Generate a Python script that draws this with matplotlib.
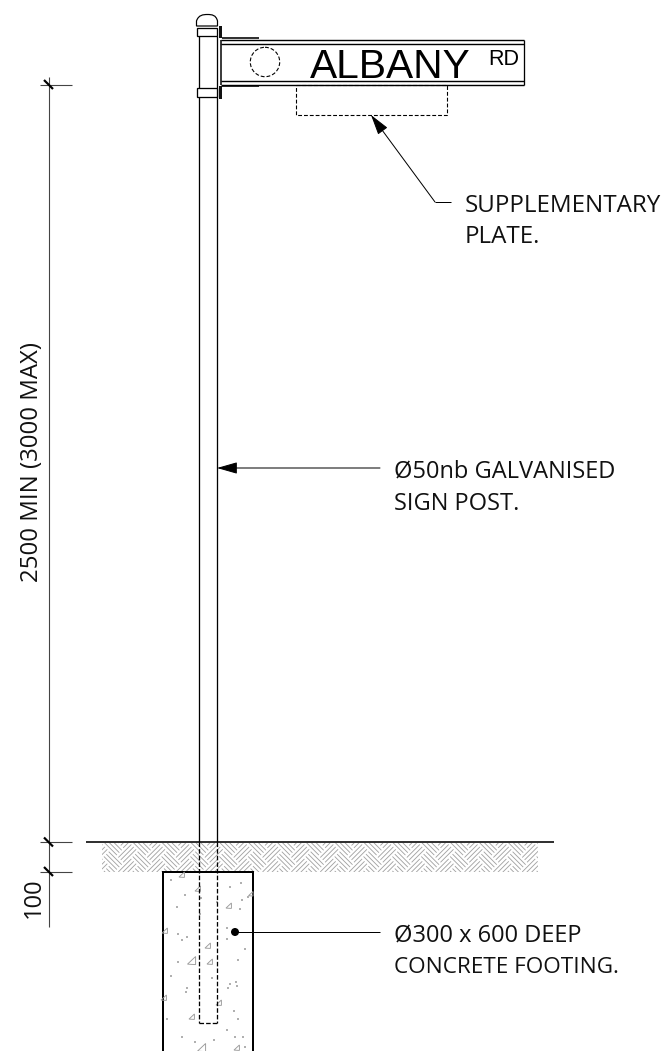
import matplotlib
matplotlib.use("Agg")
import matplotlib.pyplot as plt
from matplotlib.patches import Rectangle, Circle, PathPatch, Polygon
from matplotlib.path import Path

W, H = 661, 1051
PX = 0.72  # one pixel in points at dpi=100

# drawing geometry in pixels
post_x = [198.5, 216.5]
post_top = 36
ground_y = 842
footing_top = 871.5
post_bottom = 1023
footing_x = [162.5, 253]
sign_x = [221, 524]
sign_y = [39.5, 43.5, 81, 85]
plate_box = [296, 85, 447, 115]
rings = [(28, 36), (88, 97)]
brackets = [(26, 38), (86, 99)]
hole = (265, 62, 14.7)
dim_x = 48.5
dim_stops = [84.5, 842, 871.5]

# concrete aggregate
stones = [(182, 875, 3), (198, 889, 3), (229, 906, 3), (251, 894, 2.5), (165, 931, 3),
          (208, 946, 3), (192, 961, 4.5), (210, 962, 3), (164, 998, 3), (219, 1003, 3),
          (192, 1017, 3), (202, 1048, 4.5), (237, 1048, 3)]
specks_x = [171, 185, 177, 201, 217, 200, 230, 241, 242, 248, 240, 227, 227, 178, 187, 182,
            245, 238, 178, 171, 212, 230, 236, 237, 228, 187, 186, 167, 234, 238, 227, 182, 195, 214, 235, 243, 245]
specks_y = [880, 895, 907, 898, 902, 914, 887, 883, 900, 897, 909, 928, 939, 934, 937, 940,
            949, 960, 962, 976, 978, 984, 982, 986, 988, 988, 992, 1019, 1011, 1019, 1030, 1037, 1042, 1040, 1037, 1037, 1047]

# note text: string, left x, baseline y, font size
notes = [("SUPPLEMENTARY", 465, 212, 17.4), ("PLATE.", 465, 243, 17.4),
         ("\u00d850nb GALVANISED", 394, 478, 17.0), ("SIGN POST.", 394, 510, 17.0),
         ("\u00d8300 x 600 DEEP", 394, 942, 17.0), ("CONCRETE FOOTING.", 394, 973, 16.2)]

fig = plt.figure(figsize=(W / 100, H / 100), dpi=100)
ax = fig.add_axes([0, 0, 1, 1])
ax.set_xlim(0, W)
ax.set_ylim(H, 0)
ax.axis("off")


def line(xs, ys, lw=1.0, c="black", **kw):
    ax.plot(xs, ys, color=c, lw=lw * PX, solid_capstyle="butt", **kw)


# herringbone ground hatch
hatch_clip = Rectangle((102, 843), 436, 28.5, transform=ax.transData)
block = 10.2


def hatch_block(u0, v0, du, dv, along_u):
    for k in range(3):
        f = (k + 0.5) / 3
        if along_u:
            pts = [(u0 + 1, v0 + f * dv), (u0 + du - 1, v0 + f * dv)]
        else:
            pts = [(u0 + f * du, v0 + 1), (u0 + f * du, v0 + dv - 1)]
        xs = [102 + (u + v) * 0.7071 for u, v in pts]
        ys = [857 + (u - v) * 0.7071 for u, v in pts]
        ln, = ax.plot(xs, ys, color="#a0a0a0", lw=0.85 * PX, solid_capstyle="butt", zorder=1)
        ln.set_clip_path(hatch_clip)


for a in range(-20, 24):
    for b in range(-12, 12):
        u = (2 * a + b) * block
        v = (2 * a - b) * block
        hatch_block(u, v, 2 * block, block, True)
        hatch_block(u + 2 * block, v, block, 2 * block, False)

# footing
ax.add_patch(Rectangle((footing_x[0], footing_top), footing_x[1] - footing_x[0], H + 10 - footing_top,
                       fc="white", ec="black", lw=2 * PX, zorder=2))
for sx, sy, sr in stones:
    ax.add_patch(Polygon([(sx - sr, sy + sr * 0.7), (sx + sr * 0.8, sy - sr), (sx + sr * 0.8, sy + sr * 0.8)],
                         fc="none", ec="#9a9a9a", lw=0.9 * PX, zorder=3))
ax.scatter(specks_x, specks_y, s=0.9, c="#b0b0b0", marker="s", linewidths=0, zorder=3)

# ground line
line([86, 554], [ground_y, ground_y], lw=1.6, zorder=4)

# post above and below ground
for x in post_x:
    line([x, x], [post_top, ground_y], lw=1.3, zorder=4)
    ax.plot([x, x], [ground_y, post_bottom], color="black", lw=1.3 * PX, dashes=(3.5, 1.6), zorder=4)
ax.plot(post_x, [post_bottom, post_bottom], color="black", lw=1.3 * PX, dashes=(3.5, 1.6), zorder=4)

# post cap and rings
cap = Path([(196.5, 26), (196.5, 21), (198.5, 15), (203, 14.5), (207.5, 14.5), (212, 14.5), (216, 15), (217.5, 21), (217.5, 26), (196.5, 26)],
           [Path.MOVETO, Path.LINETO, Path.CURVE4, Path.CURVE4, Path.CURVE4, Path.CURVE4, Path.CURVE4, Path.CURVE4, Path.LINETO, Path.CLOSEPOLY])
ax.add_patch(PathPatch(cap, fc="white", ec="black", lw=1.2 * PX, zorder=5))
for y0, y1 in rings:
    ax.add_patch(Rectangle((197, y0), 20, y1 - y0, fc="white", ec="black", lw=1.3 * PX, zorder=5))
for y0, y1 in brackets:
    ax.add_patch(Rectangle((218.5, y0), 3.5, y1 - y0, fc="#111111", ec="none", zorder=5))
    line([222, 259], [y1 + 0.3 if y0 < 50 else y0, y1 + 0.3 if y0 < 50 else y0], lw=2, c="#333333", zorder=5)

# sign blade
line([sign_x[0], sign_x[0]], [sign_y[0], sign_y[3]], lw=1.5, zorder=6)
line([sign_x[1], sign_x[1]], [sign_y[0], sign_y[3]], lw=1.3, zorder=6)
for y in sign_y:
    line(sign_x, [y, y], lw=1.4, zorder=6)
ax.add_patch(Circle(hole[:2], hole[2], fc="none", ec="black", lw=1.1 * PX, ls=(0, (3.5, 1.8)), zorder=6))
ax.text(310, 77.5, "ALBANY", family="Liberation Sans", fontsize=29.3, va="baseline", ha="left", zorder=7)
ax.text(488, 65, "RD", family="Liberation Sans", fontsize=15.5, va="baseline", ha="left", zorder=7)

# supplementary plate, dashed
ax.add_patch(Rectangle((plate_box[0], plate_box[1]), plate_box[2] - plate_box[0], plate_box[3] - plate_box[1],
                       fc="none", ec="black", lw=1.1 * PX, ls=(0, (3.5, 1.8)), zorder=5))

# leaders
def arrow(tip, tail):
    ax.annotate("", xy=tip, xytext=tail, zorder=8,
                arrowprops=dict(arrowstyle="-|>,head_length=1.05,head_width=0.3", color="black", lw=1.0 * PX,
                                shrinkA=0, shrinkB=0, mutation_scale=12))


arrow((371, 115), (435, 202))
line([435, 451], [202, 202], lw=1.0)
arrow((217, 468), (380, 468))
ax.add_patch(Circle((235, 932), 4, fc="black", ec="none", zorder=8))
line([235, 380], [932, 932], lw=1.0, zorder=7)

# dimension line with ticks
line([dim_x, dim_x], [77, 927], lw=1.1, c="#444444")
for y in dim_stops:
    line([40, 72], [y, y], lw=1.1, c="#444444")
    line([44, 53], [y - 4.5, y + 4.5], lw=2.2, c="black")

# notes
note_font = dict(family="Open Sans", color="#111111", va="baseline", ha="left", zorder=9)
for txt, x, y, size in notes:
    ax.text(x, y, txt, fontsize=size, **note_font)
ax.text(38.5, 582, "2500 MIN (3000 MAX)", rotation=90, rotation_mode="anchor", fontsize=17.3, **note_font)
ax.text(40, 918, "100", rotation=90, rotation_mode="anchor", fontsize=17.0, **note_font)

fig.savefig("out.png", dpi=100)
